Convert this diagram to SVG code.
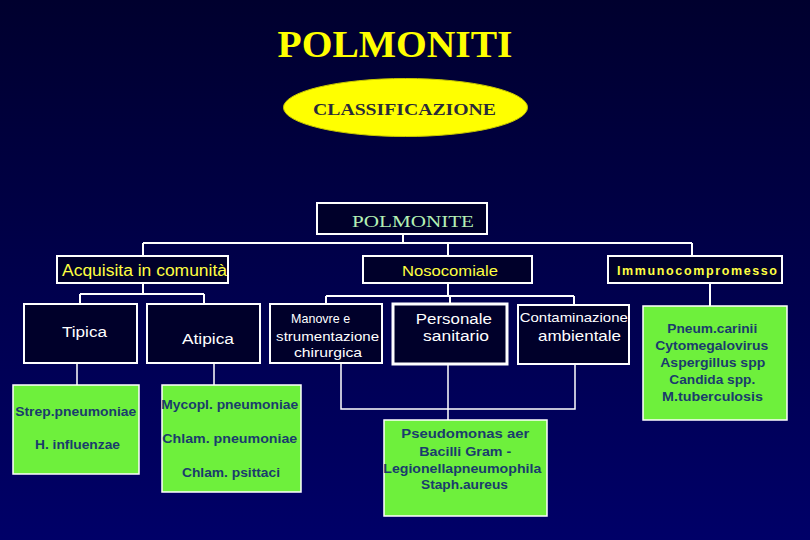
<svg xmlns="http://www.w3.org/2000/svg" width="810" height="540" viewBox="0 0 810 540">
<defs>
<linearGradient id="bg" x1="0" y1="0" x2="0" y2="1">
<stop offset="0" stop-color="#00002e"/>
<stop offset="1" stop-color="#000068"/>
</linearGradient>
</defs>
<style>
.box{fill:#00002a;stroke:#ffffff;stroke-width:2}
.gbox{fill:#6ef03c;stroke:#ffffff;stroke-width:1.5}
.c1{stroke:#ffffff;stroke-width:2;fill:none}
.c2{stroke:#ffffff;stroke-width:1.5;fill:none}
.sans{font-family:"Liberation Sans",Arial,sans-serif}
.serif{font-family:"Liberation Serif","Times New Roman",serif}
.w{fill:#ffffff}
.y{fill:#ffff40}
.g{fill:#1a3c6c;font-weight:bold;font-size:12.5px}
</style>
<rect x="0" y="0" width="810" height="540" fill="url(#bg)"/>
<text x="395" y="57" class="serif" font-size="37" font-weight="bold" fill="#ffff00" text-anchor="middle" textLength="235" lengthAdjust="spacingAndGlyphs">POLMONITI</text>
<g id="classificazione">
<ellipse cx="405.5" cy="107.5" rx="122" ry="29" fill="#ffff00" stroke="#c8c800" stroke-width="1"/>
<text x="404.5" y="115" class="serif" font-size="17.5" font-weight="bold" fill="#2a2a3a" text-anchor="middle" textLength="183" lengthAdjust="spacingAndGlyphs">CLASSIFICAZIONE</text>
</g>
<g id="connectors">
<path class="c1" d="M403 234V243M143 243H692M143 243V256M448 243V256M692 243V256"/>
<path class="c1" d="M143 283V294M80 294H204M80 294V304M204 294V304"/>
<path class="c1" d="M448 283V296M326 296H574M326 296V304M450 296V304M574 296V305"/>
<path class="c1" d="M710 283V306"/>
<path class="c2" d="M77 363V385M214 363V385M341 364V409H575V364M448 364V420"/>
</g>
<g id="polmonite">
<rect class="box" x="317" y="203" width="170" height="31"/>
<text x="413" y="227" class="serif" font-size="17" fill="#b4f0b4" text-anchor="middle" textLength="122" lengthAdjust="spacingAndGlyphs">POLMONITE</text>
</g>
<g id="acquisita">
<rect class="box" x="57" y="256" width="171" height="27"/>
<text x="62" y="276" class="sans y" font-size="16" textLength="165" lengthAdjust="spacingAndGlyphs">Acquisita in comunità</text>
</g>
<g id="nosocomiale">
<rect class="box" x="363" y="256" width="169" height="27"/>
<text x="450" y="276" class="sans y" font-size="15" text-anchor="middle" textLength="96" lengthAdjust="spacingAndGlyphs">Nosocomiale</text>
</g>
<g id="immuno">
<rect class="box" x="608" y="256" width="174" height="27"/>
<text x="697" y="275" class="sans y" font-size="12.5" font-weight="bold" text-anchor="middle" textLength="160" lengthAdjust="spacing">Immunocompromesso</text>
</g>
<g id="tipica">
<rect class="box" x="24" y="304" width="113" height="59"/>
<text x="84.5" y="337" class="sans w" font-size="15.5" text-anchor="middle" textLength="45" lengthAdjust="spacingAndGlyphs">Tipica</text>
</g>
<g id="atipica">
<rect class="box" x="147" y="304" width="113" height="59"/>
<text x="208" y="344" class="sans w" font-size="15.5" text-anchor="middle" textLength="52" lengthAdjust="spacingAndGlyphs">Atipica</text>
</g>
<g id="manovre">
<rect class="box" x="270" y="304" width="112" height="59"/>
<text class="sans w" font-size="13.5" text-anchor="middle">
<tspan x="322.5" y="323" textLength="59" lengthAdjust="spacingAndGlyphs">Manovre e</tspan>
<tspan x="329.5" y="341" textLength="103" lengthAdjust="spacingAndGlyphs">strumentazione</tspan>
<tspan x="328" y="357" textLength="68" lengthAdjust="spacingAndGlyphs">chirurgica</tspan>
</text>
</g>
<g id="personale">
<rect x="393" y="304" width="114" height="60" fill="#00002a" stroke="#ffffff" stroke-width="3"/>
<text class="sans w" font-size="15.5" text-anchor="middle">
<tspan x="456" y="324" textLength="76" lengthAdjust="spacingAndGlyphs">Personale</tspan>
<tspan x="456" y="341" textLength="66" lengthAdjust="spacingAndGlyphs">sanitario</tspan>
</text>
</g>
<g id="contaminazione">
<rect class="box" x="518" y="305" width="111" height="59"/>
<text class="sans w" text-anchor="middle">
<tspan x="576" y="322" font-size="13.5" textLength="108" lengthAdjust="spacingAndGlyphs">Contaminazione</tspan>
<tspan x="579.5" y="341" font-size="14.5" textLength="83" lengthAdjust="spacingAndGlyphs">ambientale</tspan>
</text>
</g>
<g id="strep">
<rect class="gbox" x="13" y="385" width="126" height="89"/>
<text class="sans g" text-anchor="middle">
<tspan x="77.5" y="416" textLength="121" lengthAdjust="spacingAndGlyphs">Strep.pneumoniae</tspan>
<tspan x="77.5" y="449" textLength="85" lengthAdjust="spacingAndGlyphs">H. influenzae</tspan>
</text>
</g>
<g id="mycopl">
<rect class="gbox" x="162" y="385" width="139" height="107"/>
<text class="sans g" text-anchor="middle">
<tspan x="231.5" y="409" textLength="137" lengthAdjust="spacingAndGlyphs">Mycopl. pneumoniae</tspan>
<tspan x="231.5" y="443" textLength="135" lengthAdjust="spacingAndGlyphs">Chlam. pneumoniae</tspan>
<tspan x="231" y="477" textLength="98" lengthAdjust="spacingAndGlyphs">Chlam. psittaci</tspan>
</text>
</g>
<g id="pseudomonas">
<rect class="gbox" x="384" y="420" width="163" height="96"/>
<text class="sans g" text-anchor="middle">
<tspan x="467" y="438" textLength="128" lengthAdjust="spacingAndGlyphs">Pseudomonas aer</tspan>
<tspan x="467" y="456" textLength="92" lengthAdjust="spacingAndGlyphs">Bacilli Gram -</tspan>
<tspan x="464" y="473" textLength="158" lengthAdjust="spacingAndGlyphs">Legionellapneumophila</tspan>
<tspan x="464.5" y="489" textLength="87" lengthAdjust="spacingAndGlyphs">Staph.aureus</tspan>
</text>
</g>
<g id="pneum">
<rect class="gbox" x="643" y="306" width="144" height="114"/>
<text class="sans g" text-anchor="middle">
<tspan x="714" y="333" textLength="90" lengthAdjust="spacingAndGlyphs">Pneum.carinii</tspan>
<tspan x="713.5" y="350" textLength="113" lengthAdjust="spacingAndGlyphs">Cytomegalovirus</tspan>
<tspan x="714.5" y="367" textLength="105" lengthAdjust="spacingAndGlyphs">Aspergillus spp</tspan>
<tspan x="714" y="384" textLength="86" lengthAdjust="spacingAndGlyphs">Candida spp.</tspan>
<tspan x="712.5" y="401" textLength="101" lengthAdjust="spacingAndGlyphs">M.tuberculosis</tspan>
</text>
</g>
</svg>
